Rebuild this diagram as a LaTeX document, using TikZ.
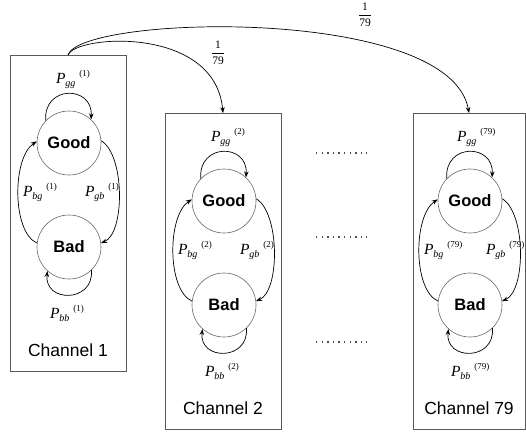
\documentclass[tikz,border=0pt]{standalone}
\usepackage{fontspec}
\setmainfont{Liberation Serif}
\setsansfont{Liberation Sans}
\usetikzlibrary{arrows.meta}
\newcommand{\Plab}[2]{\textit{P}\kern-0.3pt\raisebox{-3pt}{\fontsize{10}{10}\selectfont\textit{#1}}\kern4pt\raisebox{6.5pt}{\fontsize{9}{9}\selectfont(#2)}}
\newcommand{\myfrac}{$\displaystyle\frac{\textrm{1}}{\textrm{79}}$}
\tikzset{
  stnode/.style={circle, draw=black!60, line width=0.6pt, minimum size=64pt, inner sep=0pt,
    font=\sffamily\bfseries\fontsize{16.5}{16.5}\selectfont},
  chbox/.style={draw=black!65, line width=0.8pt, inner sep=0pt},
  trans/.style={draw=black, line width=0.7pt, -{Stealth[length=6pt,width=4.5pt]}},
  plabel/.style={inner sep=0pt, anchor=base west, font=\fontsize{15.5}{15.5}\selectfont},
  chlabel/.style={inner sep=0pt, font=\sffamily\fontsize{17.5}{17.5}\selectfont},
  fraclabel/.style={inner sep=0pt, font=\fontsize{11.5}{13}\selectfont},
  dotrow/.style={draw=black!70, line width=1.3pt, dash pattern=on 1.3pt off 4.3pt}
}
% #1 id, #2 x, #3 y, #4 superscript, #5 channel name, #6 box width
\newcommand{\mkchannel}[6]{%
\begin{scope}[shift={(#2,#3)}]
  \node[chbox, minimum width=#6, minimum height=316] (box#1) at (-1,70.5) {};
  \node[stnode] (g#1) at (0,0) {Good};
  \node[stnode] (b#1) at (0,104) {Bad};
  \draw[trans] (g#1.136) .. controls (-26,-58) and (24,-58) .. (g#1.47);
  \draw[trans] (g#1.4) .. controls (56,12) and (56,90) .. (b#1.7);
  \draw[trans] (b#1.173) .. controls (-57,89) and (-57,15) .. (g#1.177);
  \draw[trans] (b#1.-46) .. controls (25,160) and (-25,160) .. (b#1.-132);
  \node[plabel] (pgg#1) at (-13,-60) {\Plab{gg}{#4}};
  \node[plabel] (pbg#1) at (-46,53) {\Plab{bg}{#4}};
  \node[plabel] (pgb#1) at (16,53) {\Plab{gb}{#4}};
  \node[plabel] (pbb#1) at (-19,175) {\Plab{bb}{#4}};
  \node[chlabel] (ch#1) at (-1,207) {#5};
\end{scope}}
\begin{document}
\begin{tikzpicture}[x=1pt,y=-1pt]
  \useasboundingbox (0,0) rectangle (526,434);
  \mkchannel{1}{69}{143}{1}{Channel 1}{116}
  \mkchannel{2}{224}{201}{2}{Channel 2}{116}
  \mkchannel{3}{470}{201}{79}{Channel 79}{112}
  \draw[trans] (box1.north) .. controls (75,35) and (215,25) .. (box2.north);
  \draw[trans] (box1.north) .. controls (80,15) and (450,5) .. (box3.north);
  \node[fraclabel] (f1) at (218,53) {\myfrac};
  \node[fraclabel] (f2) at (365,15) {\myfrac};
  \draw[dotrow] (316,153) -- (367,153);
  \draw[dotrow] (316,237) -- (367,237);
  \draw[dotrow] (316,342) -- (367,342);
\end{tikzpicture}
\end{document}
